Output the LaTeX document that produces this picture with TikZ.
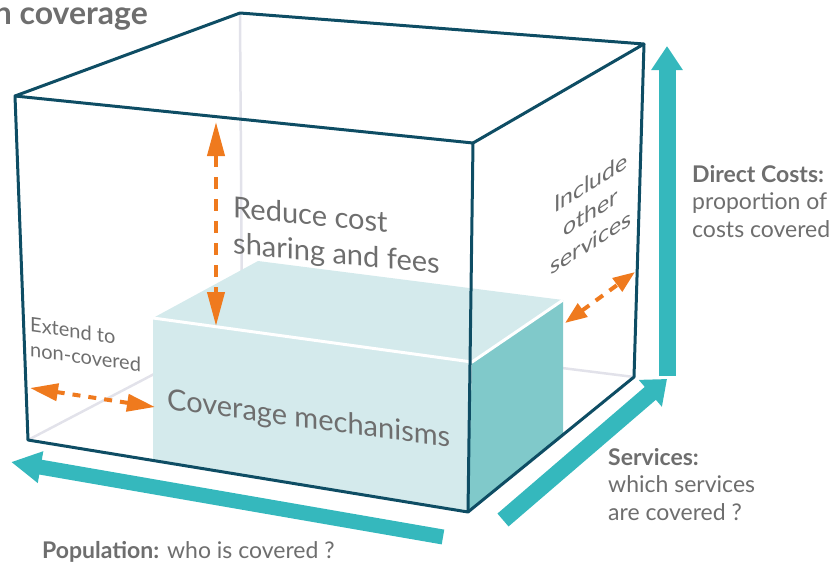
\documentclass[tikz,border=0pt]{standalone}
\usepackage{fontspec}
\setmainfont{Lato}
\usetikzlibrary{arrows.meta}
\definecolor{edgec}{HTML}{0E4D64}
\definecolor{hidc}{HTML}{E2E2EA}
\definecolor{axisc}{HTML}{35B8BD}
\definecolor{boxlt}{HTML}{D4EAEC}
\definecolor{boxrt}{HTML}{80C9CA}
\definecolor{orng}{HTML}{EF7A1E}
\definecolor{txtc}{HTML}{6E6E6E}
\newcommand{\fsz}[2]{\fontsize{#1pt}{#2pt}\selectfont}
\begin{document}
\begin{tikzpicture}[x=1pt,y=-1pt,
  cubeedge/.style={draw=edgec,line width=3,line join=round},
  hidden/.style={draw=hidc,line width=2.5},
  axisarrow/.style={draw=axisc,line width=#1},
  orangearrow/.style={draw=orng,line width=4},
  lbl/.style={text=txtc,inner sep=0,align=left},
  sidelbl/.style={lbl,font=\fsz{23}{27.5}}]
\useasboundingbox (0,0) rectangle (838,563);
% cube corners
\coordinate (FTL) at (15,96);
\coordinate (FTR) at (473,143);
\coordinate (FBR) at (468,512);
\coordinate (FBL) at (28,440);
\coordinate (BTL) at (240,13);
\coordinate (BTR) at (644,44);
\coordinate (BBR) at (634,377);
\coordinate (BBL) at (242,328);
% box corners
\coordinate (bFTL) at (153,318);
\coordinate (bFTR) at (472,362);
\coordinate (bFBR) at (468,512);
\coordinate (bFBL) at (153,461);
\coordinate (bBTL) at (258,261);
\coordinate (bBTR) at (563,300);
\coordinate (bBBR) at (563,435);
% hidden edges
\draw[hidden] (BTL) -- (BBL) -- (FBL);
\draw[hidden] (BBL) -- (BBR);
% inner box
\fill[boxlt] (bFTL) -- (bBTL) -- (bBTR) -- (bFTR) -- cycle;
\fill[boxlt] (bFTL) -- (bFTR) -- (bFBR) -- (bFBL) -- cycle;
\fill[boxrt] (bFTR) -- (bBTR) -- (bBBR) -- (bFBR) -- cycle;
\draw[white,line width=3,line join=round] (bFTL) -- (bFTR) -- (bBTR);
% cube visible edges
\draw[cubeedge] (FTL) -- (FTR) -- (FBR) -- (FBL) -- cycle;
\draw[cubeedge] (FTL) -- (BTL) -- (BTR) -- (FTR);
\draw[cubeedge] (BTR) -- (BBR) -- (FBR);
% teal axes
\coordinate (vA) at (667,376);
\coordinate (vB) at (667,46);
\coordinate (sA) at (503,520);
\coordinate (sB) at (667,379);
\coordinate (pA) at (443,537);
\coordinate (pB) at (11,462);
\draw[axisarrow=17,-{Triangle[width=30,length=24]}] (vA) -- (vB);
\draw[axisarrow=17,-{Triangle[width=34,length=22]}] (sA) -- (sB);
\draw[axisarrow=15,-{Triangle[width=30,length=30]}] (pA) -- (pB);
% orange arrows
\coordinate (o1a) at (216,122);
\coordinate (o1b) at (216,326);
\coordinate (o2a) at (30,388);
\coordinate (o2b) at (155,407);
\coordinate (o3a) at (565,323);
\coordinate (o3b) at (635,272);
\draw[orangearrow,dash pattern=on 12 off 10,{Triangle[width=17,length=34]}-{Triangle[width=17,length=34]}] (o1a) -- (o1b);
\draw[orangearrow,dash pattern=on 8 off 8,{Triangle[width=17,length=28]}-{Triangle[width=17,length=28]}] (o2a) -- (o2b);
\draw[orangearrow,dash pattern=on 9 off 8,{Triangle[width=16,length=22]}-{Triangle[width=16,length=22]}] (o3a) -- (o3b);
% texts
\node[lbl,anchor=base east,font=\bfseries\fsz{32}{38}] (title) at (148,24) {n coverage};
\node[lbl,anchor=north west,yslant=-0.096,font=\fsz{29}{36}] (reduce) at (233,196) {Reduce cost\\sharing and fees};
\node[lbl,anchor=base west,yslant=-0.135,font=\fsz{29}{35}] (cov) at (167,409) {Coverage mechanisms};
\node[lbl,anchor=north west,yslant=-0.14,font=\fsz{20}{24.5}] (extend) at (30,317) {Extend to\\non-covered};
\node[lbl,align=center,anchor=center,yslant=0.625,font=\fsz{23}{30}] (incl) at (591,212) {Include\\other\\services};
\node[sidelbl,anchor=north west] (dc) at (692,165) {\textbf{Direct Costs:}\\proportion of\\costs covered};
\node[sidelbl,anchor=north west] (sv) at (608,448) {\textbf{Services:}\\which services\\are covered ?};
\node[lbl,anchor=base west,font=\fsz{23}{27}] (pop) at (42,558) {\textbf{Population:} who is covered ?};
\end{tikzpicture}
\end{document}
